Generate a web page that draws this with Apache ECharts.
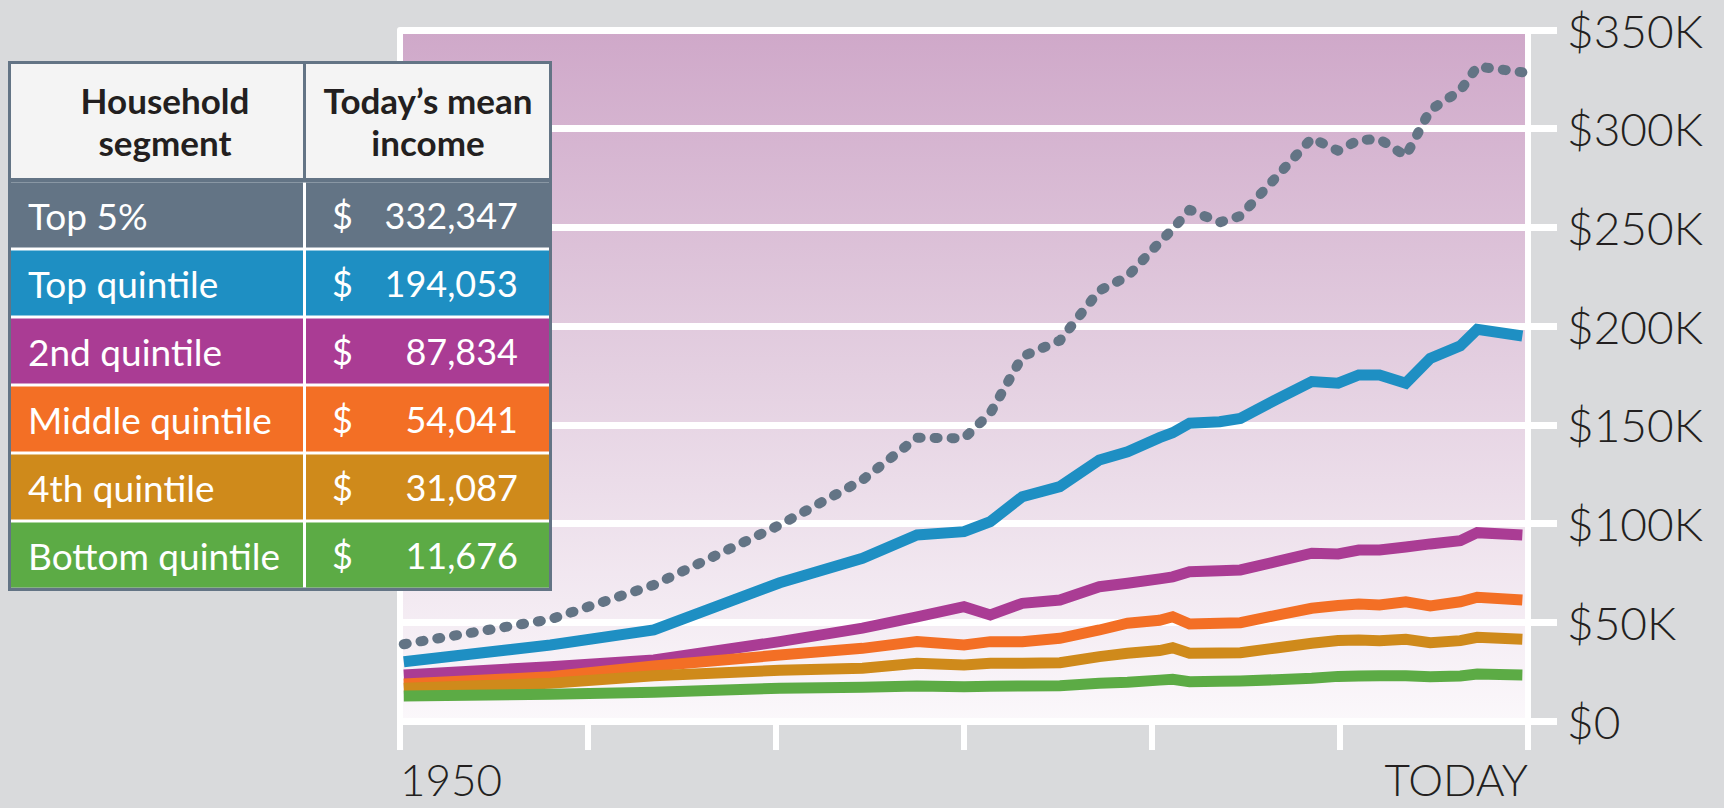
<!DOCTYPE html>
<html>
<head>
<meta charset="utf-8">
<title>Mean household income by segment</title>
<script src="https://cdn.jsdelivr.net/npm/echarts@6.0.0/dist/echarts.min.js"></script>
<style>
  html, body { margin: 0; padding: 0; background: #d9dadc; }
  #chart { width: 1724px; height: 808px; }
</style>
</head>
<body>
<div id="chart"></div>
<script>
// x positions of the line vertices, in years (1950 .. today)
const years = [1950.2, 1958, 1963.5, 1970.2, 1974.6, 1977.5, 1980, 1981.4, 1983.1, 1985.1,
  1987.2, 1988.7, 1990.4, 1991.1, 1992, 1993.6, 1994.7, 1996.6, 1998.5, 1999.9,
  2001, 2002.1, 2003.5, 2004.8, 2006.4, 2007.3, 2009.7]

// mean income, dollars
const top5 = [38900, 51500, 68900, 99300, 122100, 143500, 143200, 155900, 184600, 192700,
  218000, 225200, 242500, 249100, 258900, 252600, 255800, 275400, 295200, 288900,
  294300, 294700, 286200, 309500, 319300, 331500, 328600]
const topQuintile = [30000, 38500, 46100, 70000, 82400, 94200, 95900, 101000, 113600, 118700,
  132200, 136400, 143500, 146000, 150800, 151600, 153300, 162800, 171900, 171100,
  175300, 175300, 171100, 183700, 190000, 198400, 195000]
const secondQuintile = [23300, 27500, 30900, 40200, 47000, 52800, 57900, 53700, 59600, 61300,
  68000, 69800, 72000, 73000, 75600, 76100, 76500, 80700, 85000, 84600,
  86600, 86600, 88100, 89700, 91300, 95400, 94200]
const middleQuintile = [18700, 22400, 27900, 33400, 36800, 40200, 38500, 40200, 40200, 41900,
  46100, 49500, 51000, 52800, 49100, 49500, 49800, 53500, 57100, 58500,
  59300, 58800, 60400, 58300, 60400, 62700, 61300]
const fourthQuintile = [16600, 19100, 22900, 25700, 26700, 29200, 28400, 29200, 29200, 29500,
  32600, 34300, 35700, 37100, 34300, 34500, 34600, 37000, 39400, 40800,
  41000, 40700, 41400, 39700, 40700, 42400, 41400]
const bottomQuintile = [12700, 13500, 14500, 16600, 17100, 17700, 17400, 17600, 17700, 17900,
  19100, 19600, 20700, 21100, 19900, 20100, 20300, 20900, 21600, 22600,
  22800, 22900, 22900, 22400, 22800, 23800, 23300]

// table
const headers = [['Household', 'segment'], ['Today\u2019s mean', 'income']]
const segments = ['Top 5%', 'Top quintile', '2nd quintile', 'Middle quintile', '4th quintile', 'Bottom quintile']
const todaysMean = [332347, 194053, 87834, 54041, 31087, 11676]
const colors = ['#637485', '#1e8fc3', '#aa3c94', '#f36f25', '#cf8a1b', '#5cab45']

const textColor = '#231f20'
const font = 'Lato'

function pairs(values) {
  return years.map((y, i) => [y, values[i]])
}

function lineSeries(name, values, color) {
  return {
    name,
    type: 'line',
    data: pairs(values),
    symbol: 'none',
    silent: true,
    lineStyle: { color, width: 11, cap: 'butt', join: 'miter' }
  }
}

// table drawn as graphic elements, on top of the plot
function buildTable() {
  const els = []
  const left = 11, col2 = 306, w1 = 292, w2 = 243
  const rowTop = 182.5, rowStep = 68, rowH = 65
  const rect = (x, y, width, height, fill) =>
    ({ type: 'rect', z: 100, shape: { x, y, width, height }, style: { fill } })
  const text = style => ({ type: 'text', z: 101, style })

  els.push(rect(8, 61, 544, 530, colors[0]))
  els.push(rect(left, 64, w1, 114, '#f4f4f4'))
  els.push(rect(col2, 64, w2, 114, '#f4f4f4'))
  els.push(rect(left, rowTop, 538, 405, '#ffffff'))
  const headerX = [165, 428]
  headers.forEach((lines, c) => {
    lines.forEach((line, j) => {
      els.push(text({ text: line, x: headerX[c], y: 100 + 42 * j, fill: textColor, font: 'bold 35px ' + font, align: 'center', verticalAlign: 'middle' }))
    })
  })
  segments.forEach((seg, i) => {
    const y = rowTop + rowStep * i
    const cy = y + rowH / 2
    els.push(rect(left, y, w1, rowH, colors[i]))
    els.push(rect(col2, y, w2, rowH, colors[i]))
    els.push(text({ text: seg, x: 28, y: cy, fill: '#fff', font: '37px ' + font, align: 'left', verticalAlign: 'middle' }))
    els.push(text({ text: '$', x: 332, y: cy, fill: '#fff', font: '36px ' + font, align: 'left', verticalAlign: 'middle' }))
    els.push(text({ text: todaysMean[i].toLocaleString('en-US'), x: 518, y: cy, fill: '#fff', font: '36px ' + font, align: 'right', verticalAlign: 'middle' }))
  })
  return els
}

const chart = echarts.init(document.getElementById('chart'), null, { renderer: 'svg' })

const whiteLine = { color: '#ffffff', width: 7 }

const option = {
  animation: false,
  backgroundColor: '#d9dadc',
  grid: {
    left: 400,
    right: 196,
    top: 30,
    bottom: 87,
    show: true,
    borderWidth: 0,
    backgroundColor: {
      type: 'linear', x: 0, y: 0, x2: 0, y2: 1,
      colorStops: [
        { offset: 0, color: '#cfa8c9' },
        { offset: 0.5, color: '#e4d0e1' },
        { offset: 1, color: '#fbf8fb' }
      ]
    }
  },
  xAxis: {
    type: 'value',
    min: 1950,
    max: 2010,
    interval: 10,
    axisLine: { show: false },
    axisTick: { show: true, length: 29, lineStyle: { color: '#ffffff', width: 6 } },
    splitLine: { show: false },
    axisLabel: {
      margin: 38,
      lineHeight: 40,
      color: textColor,
      fontFamily: font,
      fontWeight: 300,
      fontSize: 44,
      showMinLabel: true,
      showMaxLabel: true,
      alignMinLabel: 'left',
      alignMaxLabel: 'right',
      formatter: v => (v === 1950 ? '1950' : v === 2010 ? 'TODAY' : '')
    }
  },
  yAxis: [
    {
      type: 'value',
      position: 'right',
      min: 0,
      max: 350000,
      interval: 50000,
      axisLine: { show: true, lineStyle: { color: '#ffffff', width: 6 } },
      axisTick: { show: true, length: 29, lineStyle: whiteLine },
      splitLine: { show: true, lineStyle: whiteLine },
      axisLabel: {
        margin: 39,
        color: textColor,
        fontFamily: font,
        fontWeight: 300,
        fontSize: 46,
        formatter: v => (v === 0 ? '$0' : '$' + v / 1000 + 'K')
      }
    },
    {
      type: 'value',
      position: 'left',
      min: 0,
      max: 350000,
      interval: 50000,
      axisLine: { show: true, lineStyle: { color: '#ffffff', width: 6 } },
      axisTick: { show: false },
      splitLine: { show: false },
      axisLabel: { show: false }
    }
  ],
  series: [
    {
      name: 'Top 5%',
      type: 'line',
      data: pairs(top5),
      symbol: 'none',
      silent: true,
      lineStyle: { color: colors[0], width: 10, type: [3, 14], cap: 'round', join: 'round' }
    },
    lineSeries('Top quintile', topQuintile, colors[1]),
    lineSeries('2nd quintile', secondQuintile, colors[2]),
    lineSeries('Middle quintile', middleQuintile, colors[3]),
    lineSeries('4th quintile', fourthQuintile, colors[4]),
    lineSeries('Bottom quintile', bottomQuintile, colors[5])
  ],
  graphic: buildTable()
}

chart.setOption(option)
</script>
</body>
</html>
